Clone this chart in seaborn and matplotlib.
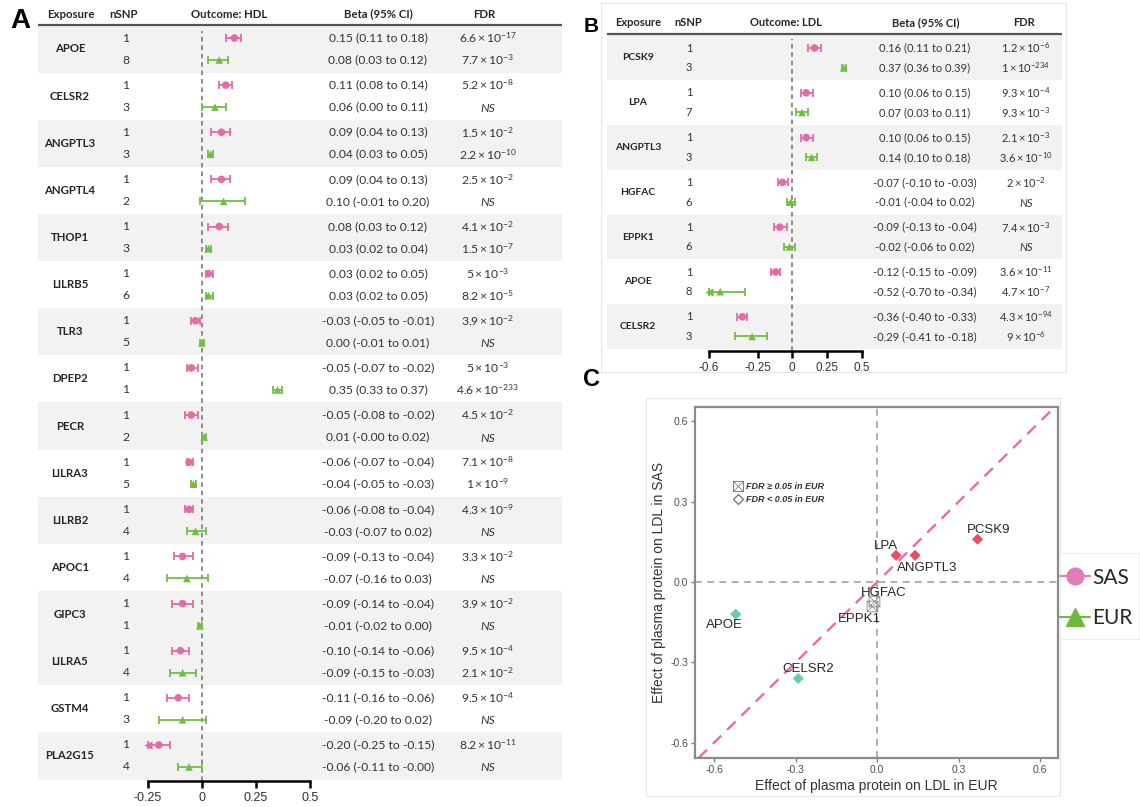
import numpy as np
import pandas as pd
import matplotlib
matplotlib.use("Agg")
import matplotlib.pyplot as plt
import seaborn as sns
from matplotlib.lines import Line2D
from matplotlib.patches import Rectangle

# ---------------- data : panel A (outcome HDL) ----------------
genes_A = ['APOE', 'CELSR2', 'ANGPTL3', 'ANGPTL4', 'THOP1', 'LILRB5', 'TLR3', 'DPEP2',
           'PECR', 'LILRA3', 'LILRB2', 'APOC1', 'GIPC3', 'LILRA5', 'GSTM4', 'PLA2G15']
nsnp_sas_A = [1, 1, 1, 1, 1, 1, 1, 1, 1, 1, 1, 1, 1, 1, 1, 1]
nsnp_eur_A = [8, 3, 3, 2, 3, 6, 5, 1, 2, 5, 4, 4, 1, 4, 3, 4]
sas_beta_A = [0.15, 0.11, 0.09, 0.09, 0.08, 0.03, -0.03, -0.05, -0.05, -0.06, -0.06, -0.09, -0.09, -0.10, -0.11, -0.20]
sas_lo_A = [0.11, 0.08, 0.04, 0.04, 0.03, 0.02, -0.05, -0.07, -0.08, -0.07, -0.08, -0.13, -0.14, -0.14, -0.16, -0.25]
sas_hi_A = [0.18, 0.14, 0.13, 0.13, 0.12, 0.05, -0.01, -0.02, -0.02, -0.04, -0.04, -0.04, -0.04, -0.06, -0.06, -0.15]
eur_beta_A = [0.08, 0.06, 0.04, 0.10, 0.03, 0.03, 0.00, 0.35, 0.01, -0.04, -0.03, -0.07, -0.01, -0.09, -0.09, -0.06]
eur_lo_A = [0.03, 0.00, 0.03, -0.01, 0.02, 0.02, -0.01, 0.33, -0.0, -0.05, -0.07, -0.16, -0.02, -0.15, -0.20, -0.11]
eur_hi_A = [0.12, 0.11, 0.05, 0.20, 0.04, 0.05, 0.01, 0.37, 0.02, -0.03, 0.02, 0.03, 0.00, -0.03, 0.02, -0.0]
fdr_sas_A = ['6.6e-17', '5.2e-8', '1.5e-2', '2.5e-2', '4.1e-2', '5e-3', '3.9e-2', '5e-3',
             '4.5e-2', '7.1e-8', '4.3e-9', '3.3e-2', '3.9e-2', '9.5e-4', '9.5e-4', '8.2e-11']
fdr_eur_A = ['7.7e-3', 'NS', '2.2e-10', 'NS', '1.5e-7', '8.2e-5', 'NS', '4.6e-233',
             'NS', '1e-9', 'NS', 'NS', 'NS', '2.1e-2', 'NS', 'NS']
shade_A = [1, 0, 1, 0, 1, 0, 1, 0, 1, 0, 1, 0, 1, 1, 0, 1]
ticks_A = [-0.25, 0, 0.25, 0.5]
ticklabels_A = ['-0.25', '0', '0.25', '0.5']

# ---------------- data : panel B (outcome LDL) ----------------
genes_B = ['PCSK9', 'LPA', 'ANGPTL3', 'HGFAC', 'EPPK1', 'APOE', 'CELSR2']
nsnp_sas_B = [1, 1, 1, 1, 1, 1, 1]
nsnp_eur_B = [3, 7, 3, 6, 6, 8, 3]
sas_beta_B = [0.16, 0.10, 0.10, -0.07, -0.09, -0.12, -0.36]
sas_lo_B = [0.11, 0.06, 0.06, -0.10, -0.13, -0.15, -0.40]
sas_hi_B = [0.21, 0.15, 0.15, -0.03, -0.04, -0.09, -0.33]
eur_beta_B = [0.37, 0.07, 0.14, -0.01, -0.02, -0.52, -0.29]
eur_lo_B = [0.36, 0.03, 0.10, -0.04, -0.06, -0.70, -0.41]
eur_hi_B = [0.39, 0.11, 0.18, 0.02, 0.02, -0.34, -0.18]
fdr_sas_B = ['1.2e-6', '9.3e-4', '2.1e-3', '2e-2', '7.4e-3', '3.6e-11', '4.3e-94']
fdr_eur_B = ['1e-234', '9.3e-3', '3.6e-10', 'NS', 'NS', '4.7e-7', '9e-6']
shade_B = [1, 0, 1, 0, 1, 0, 1]
ticks_B = [-0.6, -0.25, 0, 0.25, 0.5]
ticklabels_B = ['-0.6', '-0.25', '0', '0.25', '0.5']

# ---------------- data : panel C ----------------
ticks_C = [-0.6, -0.3, 0.0, 0.3, 0.6]
ticklabels_C = ['-0.6', '-0.3', '0.0', '0.3', '0.6']
label_offsets_C = {'PCSK9': (8, 7), 'LPA': (-7, 7), 'ANGPTL3': (9, -9), 'HGFAC': (7, 6),
                   'EPPK1': (-9, -9), 'APOE': (-8, -8), 'CELSR2': (7, 7)}

# ---------------- style ----------------
PINK = '#E46AA8'
GREEN = '#72BE42'
RED = '#EF4A64'
TEAL = '#63CFA8'
NSGRAY = '#8C8C8C'
BAND = '#F2F2F2'
TXT = '#262626'
BOXX = r'$\boxtimes$'

W, H = 1140, 807
sns.set_theme(style='white')
plt.rcParams['font.family'] = ['Lato', 'DejaVu Sans']
plt.rcParams['mathtext.fontset'] = 'custom'
plt.rcParams['mathtext.rm'] = 'Lato'
plt.rcParams['mathtext.it'] = 'Lato:italic'
plt.rcParams['mathtext.bf'] = 'Lato:bold'

fig = plt.figure(figsize=(W / 100, H / 100), dpi=100)


def px_axes(l, t, r, b, **kw):
    return fig.add_axes([l / W, 1 - b / H, (r - l) / W, (b - t) / H], **kw)


ov = px_axes(0, 0, W, H, zorder=0)
ov.set_xlim(0, W)
ov.set_ylim(H, 0)
ov.axis('off')


def fdr_text(s):
    if s == 'NS':
        return None
    m, e = s.split('e')
    return r'$%s\times10^{%d}$' % (m, int(e))


def forest(spec):
    genes = spec['genes']
    n = len(genes)
    g = np.arange(n)
    y_s = spec['y0'] + g * spec['gap']
    y_e = y_s + spec['dy']
    l, t, r, b = spec['axpx']
    bx0, bx1 = spec['band_x']
    fs = spec['fs']
    # bands
    for i in range(n):
        if spec['shade'][i]:
            c = y_s[i] + spec['dy'] / 2
            ov.add_patch(Rectangle((bx0, c - spec['gap'] / 2), bx1 - bx0, spec['gap'],
                                   facecolor=BAND, edgecolor='none', zorder=0))
    # header
    hy = spec['header_y']
    for txt, x in zip(spec['headers'], spec['header_x']):
        ov.text(x, hy, txt, ha='center', va='center', fontsize=spec['head_fs'],
                fontweight='bold', color=TXT)
    ov.plot([bx0, bx1], [spec['line_y']] * 2, color='#555555', lw=1.6, solid_capstyle='butt')
    ov.text(spec['letter_xy'][0], spec['letter_xy'][1], spec['letter'], ha='center', va='center',
            fontsize=spec['letter_fs'], fontweight='bold', family=['Liberation Sans', 'DejaVu Sans'],
            color='black')
    cx = spec['col_x']
    for i in range(n):
        ov.text(cx[0], (y_s[i] + y_e[i]) / 2, genes[i], ha='center', va='center',
                fontsize=spec['gene_fs'], fontweight='bold', color=TXT)
        for yy, ns, be, lo, hi, fd in [
            (y_s[i], spec['nsnp_s'][i], spec['sb'][i], spec['sl'][i], spec['sh'][i], spec['fs_s'][i]),
            (y_e[i], spec['nsnp_e'][i], spec['eb'][i], spec['el'][i], spec['eh'][i], spec['fs_e'][i])]:
            ov.text(cx[1], yy, str(ns), ha='center', va='center', fontsize=fs, color='#333333')
            ov.text(cx[2], yy, f'{be:.2f} ({lo:.2f} to {hi:.2f})', ha='center', va='center',
                    fontsize=fs, color='#333333')
            ft = fdr_text(fd)
            if ft is None:
                ov.text(cx[3], yy + 1, 'NS', ha='center', va='center', fontsize=fs,
                        fontstyle='italic', color='#333333')
            else:
                ov.text(cx[3], yy, ft, ha='center', va='center', fontsize=fs, color='#333333')

    ax = px_axes(l, t, r, b, zorder=2)
    ax.patch.set_alpha(0)
    df = pd.DataFrame({'beta': np.r_[spec['sb'], spec['eb']],
                       'y': np.r_[y_s, y_e],
                       'pop': ['SAS'] * n + ['EUR'] * n})
    sns.scatterplot(data=df, x='beta', y='y', hue='pop', style='pop',
                    palette={'SAS': PINK, 'EUR': GREEN}, markers={'SAS': 'o', 'EUR': '^'},
                    s=30, linewidth=0, legend=False, ax=ax, zorder=4, clip_on=False)
    xmin = spec['xlim'][0]
    for be, lo, hi, yy, c in [(spec['sb'], spec['sl'], spec['sh'], y_s, PINK),
                              (spec['eb'], spec['el'], spec['eh'], y_e, GREEN)]:
        be = np.asarray(be); lo = np.asarray(lo); hi = np.asarray(hi)
        loc = np.maximum(lo, xmin)
        ax.errorbar(be, yy, xerr=[be - loc, hi - be], fmt='none', ecolor=c, elinewidth=1.3,
                    capsize=3, capthick=1.3, zorder=3, clip_on=False)
        m = lo <= xmin
        if m.any():
            ax.scatter(np.full(m.sum(), xmin), yy[m], marker='<', s=34, color=c, zorder=4,
                       clip_on=False, linewidths=0)
    ax.axvline(0, ymin=0, ymax=spec['zero_top'], color='#707070', ls=(0, (3, 2.5)), lw=1.1, zorder=1)
    ax.set_xlim(spec['xlim'])
    ax.set_ylim(b, t)
    ax.set_xlabel('')
    ax.set_ylabel('')
    ax.set_yticks([])
    ax.set_xticks(spec['ticks'])
    ax.set_xticklabels(spec['ticklabels'], family=['Liberation Sans Narrow', 'Liberation Sans'])
    for sp in ['left', 'top', 'right']:
        ax.spines[sp].set_visible(False)
    ax.spines['bottom'].set_color('black')
    ax.spines['bottom'].set_linewidth(1.8)
    ax.tick_params(axis='x', direction='out', length=5, width=1.8, color='black',
                   labelsize=spec['tick_fs'], labelcolor='#333333', pad=3, bottom=True)
    ax.grid(False)
    return ax


specA = dict(genes=genes_A, nsnp_s=nsnp_sas_A, nsnp_e=nsnp_eur_A,
             sb=sas_beta_A, sl=sas_lo_A, sh=sas_hi_A, eb=eur_beta_A, el=eur_lo_A, eh=eur_hi_A,
             fs_s=fdr_sas_A, fs_e=fdr_eur_A, shade=shade_A,
             y0=38, gap=47.13, dy=22, axpx=(148, 27, 310, 781), xlim=(-0.25, 0.5),
             band_x=(38, 562), header_y=14, line_y=25,
             headers=['Exposure', 'nSNP', 'Outcome: HDL', 'Beta (95% CI)', 'FDR'],
             header_x=[71, 123, 229, 378, 484], col_x=[70, 126, 378, 488],
             letter='A', letter_xy=(20, 21), letter_fs=20, fs=8.7, head_fs=8.2, gene_fs=8.2,
             tick_fs=9, ticks=ticks_A, ticklabels=ticklabels_A, zero_top=0.995)
specB = dict(genes=genes_B, nsnp_s=nsnp_sas_B, nsnp_e=nsnp_eur_B,
             sb=sas_beta_B, sl=sas_lo_B, sh=sas_hi_B, eb=eur_beta_B, el=eur_lo_B, eh=eur_hi_B,
             fs_s=fdr_sas_B, fs_e=fdr_eur_B, shade=shade_B,
             y0=48, gap=44.8, dy=19.7, axpx=(709.1, 36, 861.6, 351), xlim=(-0.6, 0.5),
             band_x=(607, 1062), header_y=23, line_y=34,
             headers=['Exposure', 'nSNP', 'Outcome: LDL', 'Beta (95% CI)', 'FDR'],
             header_x=[638, 688, 786, 926, 1024], col_x=[638, 689, 925, 1026],
             letter='B', letter_xy=(591, 26), letter_fs=15, fs=8.0, head_fs=8.0, gene_fs=7.4,
             tick_fs=8.5, ticks=ticks_B, ticklabels=ticklabels_B, zero_top=0.99)

forest(specA)
forest(specB)

# light panel frames
ov.add_patch(Rectangle((601, 3), 465, 369, fill=False, edgecolor='#E6E6E6', lw=0.8))
ov.add_patch(Rectangle((646, 398), 414, 398, fill=False, edgecolor='#E6E6E6', lw=0.8))
ov.add_patch(Rectangle((1060, 553), 79, 86, fill=False, edgecolor='#EFEFEF', lw=0.8))
ov.text(592, 379, 'C', ha='center', va='center', fontsize=17, fontweight='bold',
        family=['Liberation Sans', 'DejaVu Sans'], color='black')

# ---------------- panel C ----------------
axC = px_axes(695, 407, 1058, 758, zorder=2)
sig = np.array([f != 'NS' for f in fdr_eur_B])
direction = np.where(np.array(eur_beta_B) > 0, 'pos', 'neg')
dfC = pd.DataFrame({'gene': genes_B, 'eur': eur_beta_B, 'sas': sas_beta_B,
                    'cls': np.where(sig, direction, 'ns')})
sns.scatterplot(data=dfC[dfC.cls != 'ns'], x='eur', y='sas', hue='cls',
                palette={'pos': RED, 'neg': TEAL}, marker='D', s=32, linewidth=0,
                legend=False, ax=axC, zorder=4)
sns.scatterplot(data=dfC[dfC.cls == 'ns'], x='eur', y='sas', marker=BOXX, s=70,
                color=NSGRAY, linewidth=0, legend=False, ax=axC, zorder=4)
axC.axline((0, 0), slope=1, color='#E86AA6', ls=(0, (5, 3.5)), lw=1.7, zorder=2)
axC.axhline(0, color='#9A9A9A', ls=(0, (4.5, 3.5)), lw=1.1, zorder=1)
axC.axvline(0, color='#9A9A9A', ls=(0, (4.5, 3.5)), lw=1.1, zorder=1)
for _, row in dfC.iterrows():
    axC.annotate(row.gene, (row.eur, row.sas), xytext=label_offsets_C[row.gene],
                 textcoords='offset points', ha='center', va='center', fontsize=9.5,
                 family=['Liberation Sans', 'DejaVu Sans'], color=TXT, zorder=5)
axC.set_xlim(-0.67, 0.666)
axC.set_ylim(-0.657, 0.654)
axC.set_xticks(ticks_C)
axC.set_xticklabels(ticklabels_C)
axC.set_yticks(ticks_C)
axC.set_yticklabels(ticklabels_C)
for lab in axC.get_xticklabels() + axC.get_yticklabels():
    lab.set_family(['Liberation Sans', 'DejaVu Sans'])
axC.tick_params(direction='out', length=3, width=1, color='#7F7F7F', labelsize=7.5,
                labelcolor='#4D4D4D', pad=2, bottom=True, left=True)
for sp in axC.spines.values():
    sp.set_color('#8A8A8A')
    sp.set_linewidth(1.6)
axC.grid(False)
axC.set_xlabel('Effect of plasma protein on LDL in EUR', fontsize=10, color='#333333',
               family=['Liberation Sans', 'DejaVu Sans'], labelpad=3)
axC.set_ylabel('Effect of plasma protein on LDL in SAS', fontsize=10, color='#333333',
               family=['Liberation Sans', 'DejaVu Sans'], labelpad=3)

h_ns = Line2D([], [], marker=BOXX, color='#6E6E6E', ms=8, ls='', mew=0)
h_sig = Line2D([], [], marker='D', mfc='none', mec='#6E6E6E', ms=5.5, ls='', mew=0.9)
legC = axC.legend([h_ns, h_sig], ['FDR \u2265 0.05 in EUR', 'FDR < 0.05 in EUR'],
                  loc='upper left', bbox_to_anchor=(0.085, 0.81), frameon=False,
                  handlelength=0.8, handletextpad=0.5, labelspacing=0.45,
                  prop={'family': ['Liberation Sans', 'DejaVu Sans'], 'size': 6.5,
                        'weight': 'bold', 'style': 'italic'})
for t_ in legC.get_texts():
    t_.set_color('#333333')

# ---------------- overall legend ----------------
hs = [Line2D([0], [0], color='#E07DB6', marker='o', ms=12, lw=1.5),
      Line2D([0], [0], color='#6FBA3E', marker='^', ms=13, lw=1.5)]
fig.legend(hs, ['SAS', 'EUR'], loc='center left', bbox_to_anchor=(1056 / W, 1 - 598 / H),
           frameon=False, fontsize=15, handlelength=1.45, handletextpad=0.1, labelspacing=1.0,
           borderpad=0.0, borderaxespad=0.2)

fig.savefig('out.png', dpi=100)
